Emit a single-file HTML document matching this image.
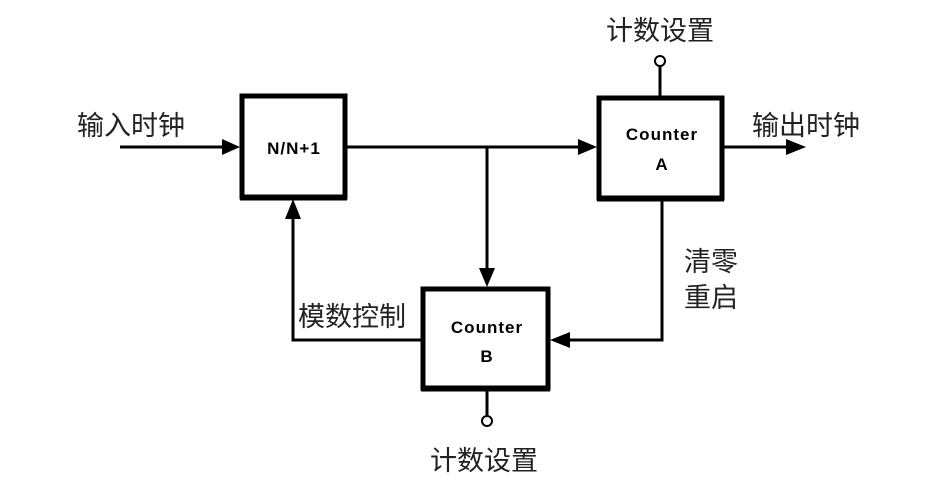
<!DOCTYPE html><html><head><meta charset="utf-8"><style>body{margin:0;background:#fff}</style></head><body>
<svg width="937" height="486" xmlns="http://www.w3.org/2000/svg" font-family="Liberation Sans, Noto Sans CJK SC, sans-serif">
<g stroke="#000" stroke-width="3" fill="none">
<line x1="120" y1="147" x2="225" y2="147"/>
<line x1="347" y1="147" x2="580" y2="147"/>
<line x1="487" y1="147" x2="487" y2="272"/>
<line x1="724" y1="147" x2="790" y2="147"/>
<polyline points="662,200 662,340 566,340"/>
<polyline points="421,340 293,340 293,215"/>
<line x1="660" y1="66" x2="660" y2="96"/>
<line x1="487" y1="390" x2="487" y2="416"/>
</g>
<g fill="#000">
<polygon points="240,147 222,139 222,155"/>
<polygon points="597,147 578,139 578,155"/>
<polygon points="806,147 786,139 786,155"/>
<polygon points="487,287 479,268 495,268"/>
<polygon points="550,340 570,332 570,348"/>
<polygon points="293,199 285,219 301,219"/>
</g>
<g stroke="#000" fill="#fff">
<rect x="242" y="96" width="103" height="101" stroke-width="5"/>
<rect x="599" y="98" width="123" height="100" stroke-width="5"/>
<rect x="423" y="289" width="125" height="99" stroke-width="5"/>
</g>
<g stroke="#000" stroke-width="5"><line x1="240" y1="198" x2="347" y2="198"/><line x1="597" y1="199" x2="724" y2="199"/><line x1="421" y1="389" x2="550" y2="389"/></g>
<circle cx="660" cy="61" r="5" fill="#fff" stroke="#000" stroke-width="2"/>
<circle cx="487" cy="421" r="5" fill="#fff" stroke="#000" stroke-width="2"/>
<g font-weight="bold" font-size="17" text-anchor="middle" letter-spacing="1">
<text x="294" y="154">N/N+1</text>
<text x="662" y="140">Counter</text><text x="662" y="170">A</text>
<text x="487" y="333">Counter</text><text x="487" y="362">B</text>
</g>
<g font-size="27" fill="#222">
<text x="77" y="135">输入时钟</text>
<text x="752" y="135">输出时钟</text>
<text x="606" y="40">计数设置</text>
<text x="430" y="470">计数设置</text>
<text x="298" y="326">模数控制</text>
<text x="684" y="271">清零</text>
<text x="684" y="307">重启</text>
</g>
</svg></body></html>
